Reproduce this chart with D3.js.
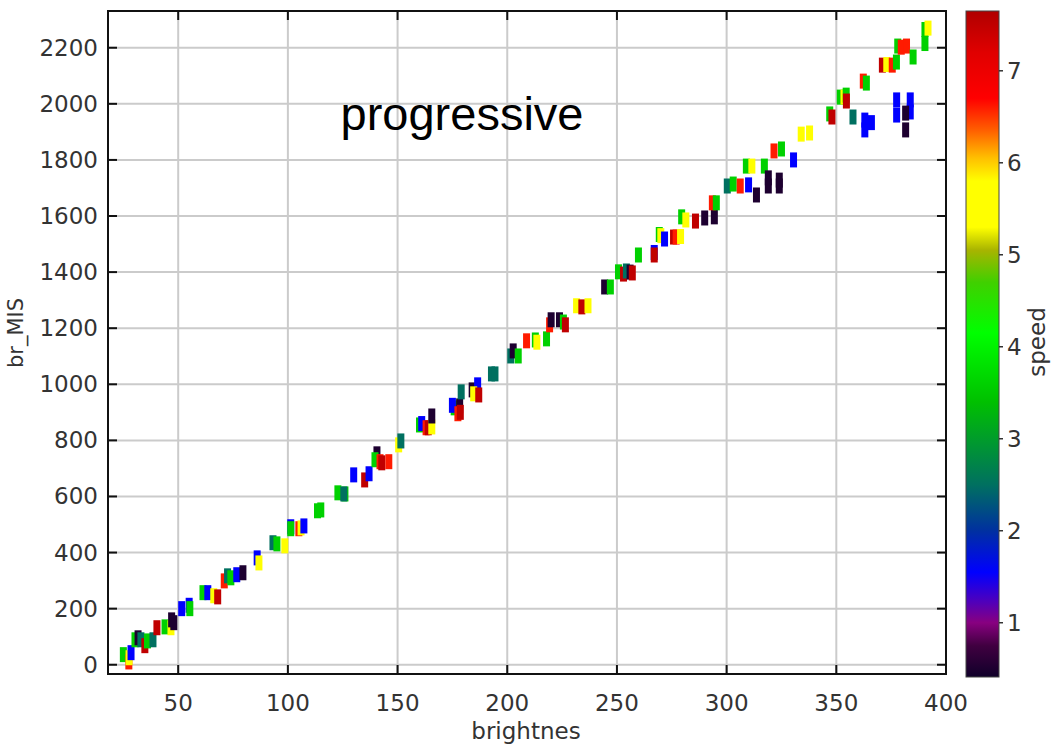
<!DOCTYPE html>
<html>
<head>
<meta charset="utf-8">
<script src="https://cdn.jsdelivr.net/npm/d3@7"></script>
<style>
  body { margin: 0; background: #fff; }
  text { font-family: "DejaVu Sans", sans-serif; }
</style>
</head>
<body>
<div id="chart"></div>
<script>
// data: one entry per glyph
var brightnes = [25, 27.5, 27.6, 28.5, 30.3, 31.7, 33, 34.8, 36, 38.5,
  40.3, 44, 46.7, 47, 48, 51.6, 55, 55.3, 61.3, 63.5,
  66.2, 68, 71, 72.5, 74, 76.7, 79.5, 86, 86.8, 93.2,
  95, 98.6, 101.3, 101.3, 105, 106, 107.3, 113.5, 115, 122.8,
  126, 125.5, 130, 135, 137, 140.6, 139.7, 142, 142.8, 146,
  150.5, 151.5, 160, 161, 163, 164, 165.6, 165.6, 175.8, 175,
  178.3, 177.5, 178.6, 179, 184, 186.5, 184.7, 187, 192.8, 194.4,
  201.6, 202.7, 205, 208.8, 212.8, 213.5, 217.9, 219.3, 220, 223.8,
  225.6, 226.5, 231.6, 234, 236.8, 244.4, 247, 250.7, 253, 254.3,
  256, 257, 259.8, 267, 267, 269.3, 270, 271.7, 275.8, 277,
  279, 279.5, 281.4, 285.8, 290, 294.4, 293.5, 295.3, 300.3, 303,
  306.2, 310, 313.6, 309, 311.5, 317.2, 319, 319, 324, 324,
  321.6, 325, 330.5, 334, 337.8, 347, 348, 351.8, 353.5, 354.5,
  354.6, 357.6, 363, 363, 366, 362.3, 363.7, 371, 373, 375.5,
  377.4, 378, 379.6, 382, 385, 390.4, 390.4, 391.8, 377.5, 377.5,
  383.7, 383.7, 381.6, 381.6];

var br_MIS = [36, 10, 25, 43, 89, 96, 89, 68, 85, 89,
  132, 135, 132, 160, 150, 200, 212, 200, 257, 257,
  246, 242, 299, 317, 310, 321, 328, 381, 363, 435,
  431, 424, 492, 485, 485, 488, 495, 549, 552, 613,
  609, 609, 677, 659, 681, 752, 731, 724, 720, 724,
  784, 798, 855, 860, 845, 845, 848, 887, 916, 925,
  923, 895, 900, 973, 980, 998, 966, 962, 1037, 1037,
  1101, 1119, 1101, 1155, 1158, 1150, 1162, 1212, 1230, 1230,
  1222, 1212, 1280, 1276, 1280, 1347, 1347, 1401, 1393, 1404,
  1400, 1397, 1461, 1470, 1461, 1534, 1530, 1518, 1525, 1525,
  1527, 1597, 1586, 1582, 1593, 1597, 1647, 1647, 1707, 1714,
  1707, 1711, 1675, 1778, 1778, 1778, 1736, 1707, 1728, 1707,
  1832, 1839, 1800, 1892, 1896, 1964, 1953, 2024, 2024, 2031,
  2010, 1953, 1942, 1907, 1933, 2081, 2074, 2138, 2140, 2138,
  2149, 2206, 2202, 2206, 2167, 2215, 2265, 2270, 2014, 1960,
  2014, 1971, 1967, 1907];

var speed = [3.6, 6.6, 5.5, 1.55, 3.6, 0.5, 2.5, 7.5, 3.6, 2.5,
  7.5, 3.6, 5.5, 0.5, 0.5, 1.55, 1.55, 3.6, 3.6, 1.55,
  5.5, 7.5, 6.6, 2.5, 3.6, 1.55, 0.5, 1.55, 5.5, 2.5,
  3.6, 5.5, 1.55, 3.6, 6.6, 5.5, 1.55, 3.6, 3.6, 3.6,
  3.6, 2.5, 1.55, 7.5, 1.55, 0.5, 3.6, 6.6, 7.5, 6.6,
  5.5, 2.5, 3.6, 1.55, 6.6, 7.5, 5.5, 0.5, 3.6, 1.55,
  0.5, 6.6, 7.5, 2.5, 0.5, 1.55, 5.5, 7.5, 2.5, 2.5,
  2.5, 0.5, 3.6, 6.6, 3.6, 5.5, 3.6, 6.6, 0.5, 0.5,
  3.6, 7.5, 5.5, 7.5, 5.5, 0.5, 3.6, 3.6, 7.5, 2.5,
  0.5, 7.5, 3.6, 1.55, 7.5, 3.6, 5.5, 1.55, 7.5, 6.6,
  5.5, 3.6, 5.5, 7.5, 0.5, 0.5, 6.6, 3.6, 2.5, 3.6,
  6.6, 1.55, 0.5, 3.6, 5.5, 3.6, 0.5, 0.5, 0.5, 0.5,
  6.6, 3.6, 1.55, 5.5, 5.5, 3.6, 7.5, 3.6, 5.5, 3.6,
  7.5, 2.5, 1.55, 1.55, 1.55, 6.6, 3.6, 7.5, 5.5, 6.6,
  3.6, 3.6, 6.6, 6.6, 3.6, 3.6, 3.6, 5.5, 1.55, 1.55,
  1.55, 1.55, 0.5, 0.5];

var xTicks = [50, 100, 150, 200, 250, 300, 350, 400];
var yTicks = [0, 200, 400, 600, 800, 1000, 1200, 1400, 1600, 1800, 2000, 2200];
var speedTicks = [1, 2, 3, 4, 5, 6, 7];

// colour map of the speed bar
var cmapValues = [0.41, 0.75, 1.0, 1.25, 1.55, 2.0, 2.5, 3.4, 4.15, 4.7, 5.05, 5.3, 5.8, 6.05, 6.35, 6.7, 7.2, 7.65];
var cmapColors = ["#10002a", "#400040", "#880080", "#4a00c0", "#0000ff", "#0030a0", "#007060",
  "#00c000", "#00ff00", "#40d000", "#a8b400", "#ffff00", "#ffff00", "#ffc000",
  "#ff6000", "#ff0000", "#e00000", "#b00000"];

var width = 1053, height = 749;
// plot box (window.top is taken, so prefixed names)
var plotL = 108, plotR = 946, plotT = 11, plotB = 674;

var svg = d3.select("#chart").append("svg")
  .attr("width", width)
  .attr("height", height);

var x = d3.scaleLinear().domain([18, 400]).range([plotL, plotR]);
var y = d3.scaleLinear().domain([-33, 2331]).range([plotB, plotT]);
var color = d3.scaleLinear().domain(cmapValues).range(cmapColors).clamp(true);
var cbar = d3.scaleLinear().domain([0.41, 7.65]).range([677, 11]);

// grid
svg.append("g").selectAll("line").data(xTicks).enter().append("line")
  .attr("x1", d => x(d)).attr("x2", d => x(d))
  .attr("y1", plotT).attr("y2", plotB)
  .attr("stroke", "#cbcbcb").attr("stroke-width", 2);
svg.append("g").selectAll("line").data(yTicks).enter().append("line")
  .attr("x1", plotL).attr("x2", plotR)
  .attr("y1", d => y(d)).attr("y2", d => y(d))
  .attr("stroke", "#cbcbcb").attr("stroke-width", 2);

// glyphs
var pts = brightnes.map((b, i) => ({b: b, m: br_MIS[i], s: speed[i]}));
svg.append("g").selectAll("rect").data(pts).enter().append("rect")
  .attr("x", d => x(d.b) - 3.5)
  .attr("y", d => y(d.m) - 7.5)
  .attr("width", 7)
  .attr("height", 15)
  .attr("fill", d => color(d.s));

// frame
svg.append("rect")
  .attr("x", plotL).attr("y", plotT)
  .attr("width", plotR - plotL).attr("height", plotB - plotT)
  .attr("fill", "none").attr("stroke", "#111").attr("stroke-width", 2);

// inward ticks on all sides
var tk = 9;
svg.append("g").selectAll("line").data(xTicks).enter().append("line")
  .attr("x1", d => x(d)).attr("x2", d => x(d))
  .attr("y1", plotB).attr("y2", plotB - tk)
  .attr("stroke", "#111").attr("stroke-width", 2);
svg.append("g").selectAll("line").data(xTicks).enter().append("line")
  .attr("x1", d => x(d)).attr("x2", d => x(d))
  .attr("y1", plotT).attr("y2", plotT + tk)
  .attr("stroke", "#111").attr("stroke-width", 2);
svg.append("g").selectAll("line").data(yTicks).enter().append("line")
  .attr("x1", plotL).attr("x2", plotL + tk)
  .attr("y1", d => y(d)).attr("y2", d => y(d))
  .attr("stroke", "#111").attr("stroke-width", 2);
svg.append("g").selectAll("line").data(yTicks).enter().append("line")
  .attr("x1", plotR).attr("x2", plotR - tk)
  .attr("y1", d => y(d)).attr("y2", d => y(d))
  .attr("stroke", "#111").attr("stroke-width", 2);

// tick labels
svg.append("g").selectAll("text").data(xTicks).enter().append("text")
  .attr("x", d => x(d)).attr("y", 711)
  .attr("text-anchor", "middle")
  .attr("font-size", "23px").attr("fill", "#333")
  .text(d => d);
svg.append("g").selectAll("text").data(yTicks).enter().append("text")
  .attr("x", 98).attr("y", d => y(d) + 8)
  .attr("text-anchor", "end")
  .attr("font-size", "23px").attr("fill", "#333")
  .text(d => d);

// axis titles
svg.append("text")
  .attr("x", 526).attr("y", 739)
  .attr("text-anchor", "middle")
  .attr("font-size", "23px").attr("fill", "#333")
  .text("brightnes");
svg.append("text")
  .attr("transform", "translate(23,333) rotate(-90)")
  .attr("text-anchor", "middle")
  .attr("font-size", "21px").attr("fill", "#333")
  .text("br_MIS");

// title inside the plot
svg.append("text")
  .attr("x", 462).attr("y", 130)
  .attr("text-anchor", "middle")
  .attr("font-size", "47px").attr("fill", "#000")
  .style("font-family", "'Liberation Sans', Arial, sans-serif")
  .text("progressive");

// colour bar
var defs = svg.append("defs");
var grad = defs.append("linearGradient")
  .attr("id", "speedGrad")
  .attr("x1", 0).attr("y1", 1).attr("x2", 0).attr("y2", 0);
grad.selectAll("stop").data(cmapValues).enter().append("stop")
  .attr("offset", d => (d - 0.41) / (7.65 - 0.41))
  .attr("stop-color", (d, i) => cmapColors[i]);

var cbx = 966, cbw = 33;
svg.append("rect")
  .attr("x", cbx).attr("y", cbar(7.65))
  .attr("width", cbw).attr("height", cbar(0.41) - cbar(7.65))
  .attr("fill", "url(#speedGrad)")
  .attr("stroke", "#444").attr("stroke-width", 1);

svg.append("g").selectAll("line").data(speedTicks).enter().append("line")
  .attr("x1", cbx + cbw).attr("x2", cbx + cbw + 4)
  .attr("y1", d => cbar(d)).attr("y2", d => cbar(d))
  .attr("stroke", "#333").attr("stroke-width", 1.5);
svg.append("g").selectAll("text").data(speedTicks).enter().append("text")
  .attr("x", 1007).attr("y", d => cbar(d) + 8)
  .attr("font-size", "23px").attr("fill", "#333")
  .text(d => d);

svg.append("text")
  .attr("transform", "translate(1045,342) rotate(-90)")
  .attr("text-anchor", "middle")
  .attr("font-size", "23px").attr("fill", "#333")
  .text("speed");
</script>
</body>
</html>
